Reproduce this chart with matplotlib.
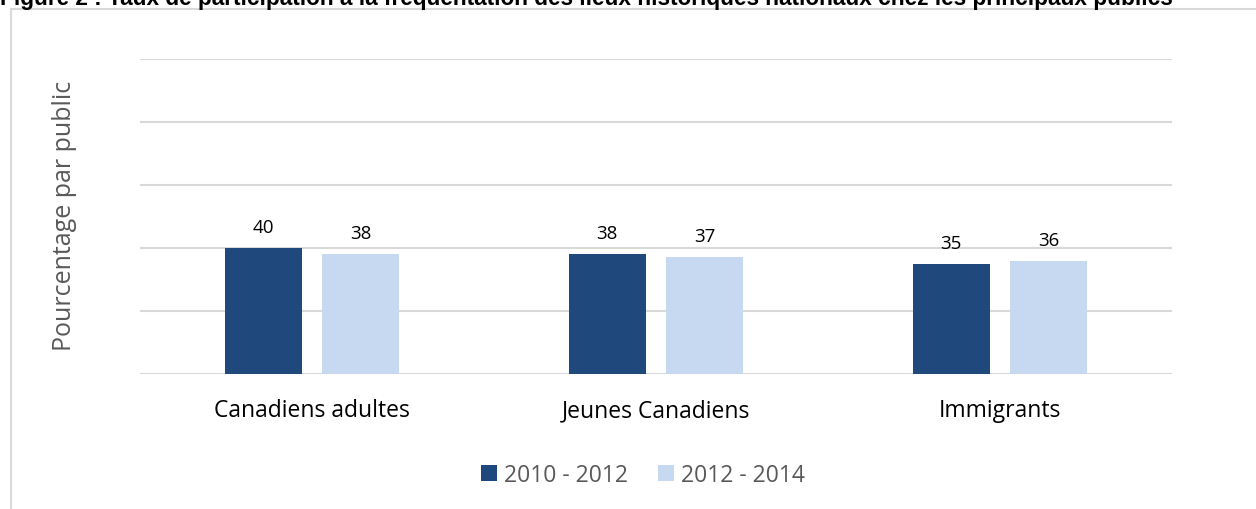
import numpy as np
import matplotlib
matplotlib.use("Agg")
import matplotlib.pyplot as plt
from matplotlib.patches import Rectangle

# Données
categories = ["Canadiens adultes", "Jeunes Canadiens", "Immigrants"]
series_names = ["2010 - 2012", "2012 - 2014"]
valeurs_2010 = [40, 38, 35]
valeurs_2012 = [38, 37, 36]
couleurs = ["#1F497D", "#C6D9F1"]

titre = ("Figure 2 : Taux de participation à la fréquentation des lieux "
         "historiques nationaux chez les principaux publics")

plt.rcParams['font.family'] = ['Open Sans', 'DejaVu Sans']

fig = plt.figure(figsize=(12.56, 5.10), dpi=100)
ax = fig.add_axes([140 / 1256, 1 - 375 / 510, 1032 / 1256, 315 / 510])

# Cadre du graphique
fig.patches.append(Rectangle((11 / 1256, -0.1), 1.2, 1 - 10 / 510 + 0.1,
                             transform=fig.transFigure, fill=False,
                             edgecolor="#D9D9D9", linewidth=1.5))

# Titre (coupé en haut comme dans l'original)
fig.text(0.0, 1.0 + 1 / 510, titre, ha="left", va="center",
         fontsize=16.3, fontweight="bold", family="Liberation Sans",
         color="black")

x = np.arange(len(categories))
largeur = 0.224
decalage = 0.142
b1 = ax.bar(x - decalage, valeurs_2010, largeur, color=couleurs[0],
            label=series_names[0], zorder=3)
b2 = ax.bar(x + decalage, valeurs_2012, largeur, color=couleurs[1],
            label=series_names[1], zorder=3)

for barres in (b1, b2):
    for r in barres:
        ax.text(r.get_x() + r.get_width() / 2, r.get_height() + 3.8,
                f"{r.get_height():.0f}", ha="center", va="bottom",
                fontsize=13.5, color="black")

ax.set_xlim(-0.5, 2.5)
ax.set_ylim(0, 100)
ax.set_yticks(np.arange(0, 101, 20))
ax.yaxis.grid(True, color="#D9D9D9", linewidth=1.5, zorder=0)
ax.set_yticklabels([])
ax.tick_params(axis="y", length=0)
ax.tick_params(axis="x", length=0, pad=17.5, labelsize=16.5, labelcolor="black")
ax.set_xticks(x)
ax.set_xticklabels(categories)
for s in ax.spines.values():
    s.set_visible(False)

fig.text(65 / 1256, 1 - 216 / 510, "Pourcentage par public", rotation=90,
         ha="center", va="center", fontsize=18, color="#595959")

ax.legend(loc="center", bbox_to_anchor=(643 / 1256, 1 - 476 / 510),
          bbox_transform=fig.transFigure, ncol=2, frameon=False,
          fontsize=16.5, labelcolor="#595959", handlelength=0.7,
          handleheight=0.7, handletextpad=0.3, columnspacing=1.3)

fig.savefig("out.png", dpi=100)
